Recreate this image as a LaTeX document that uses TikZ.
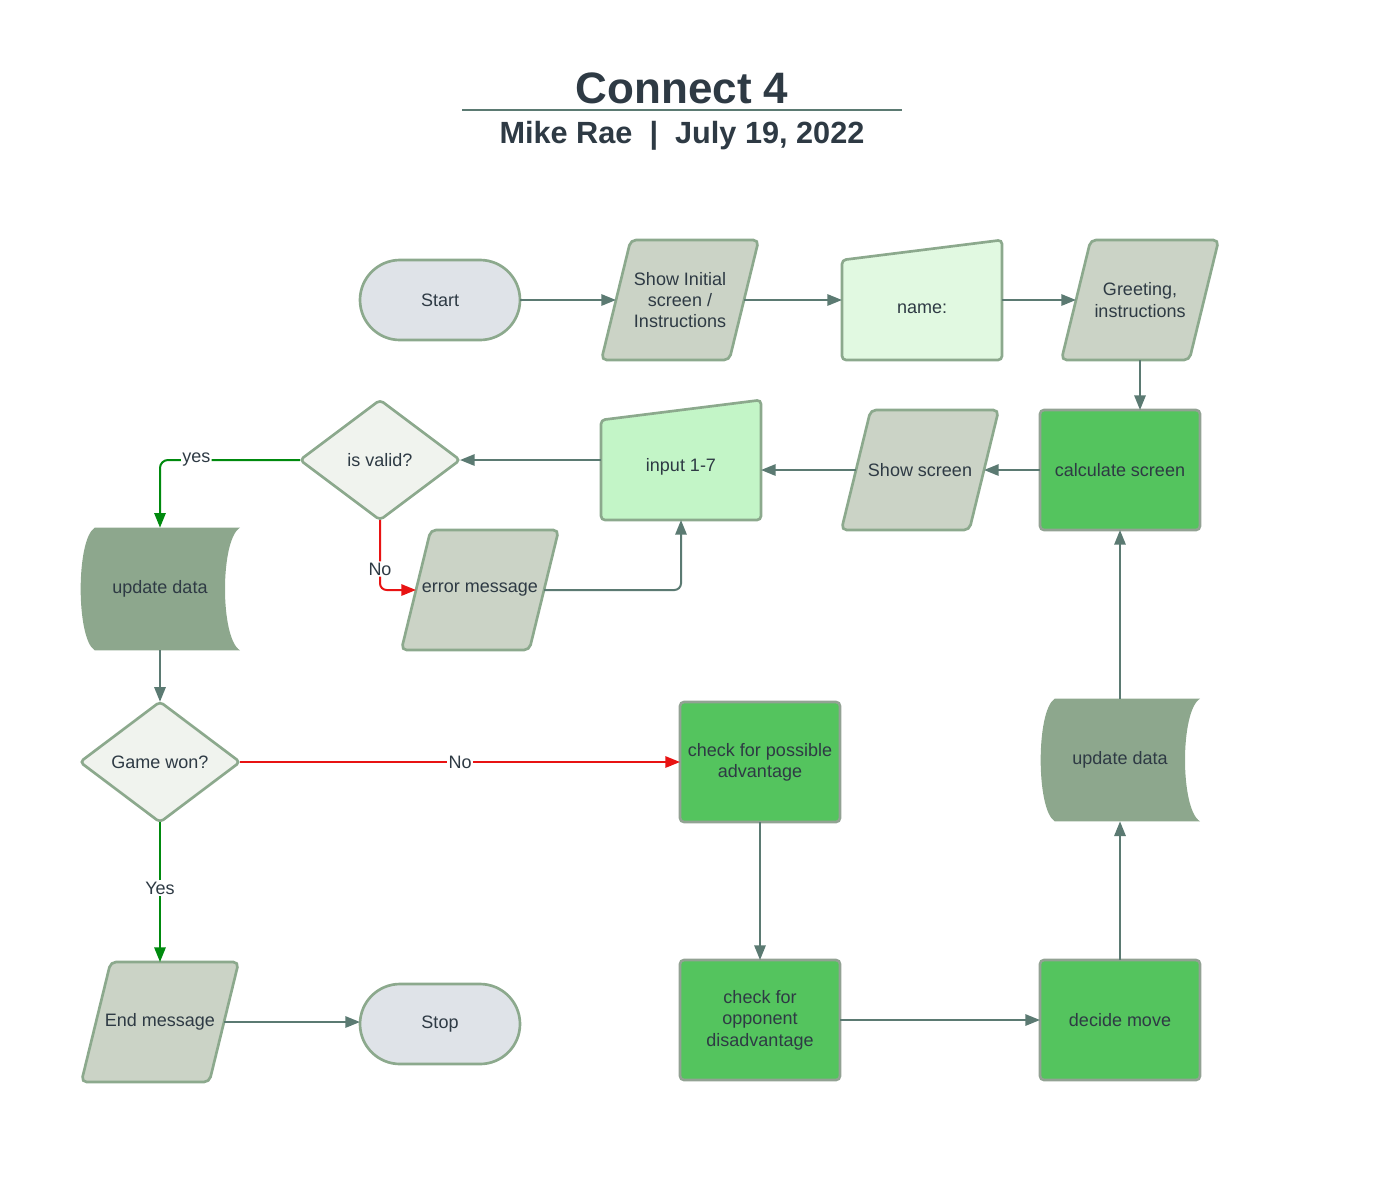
\documentclass[tikz,border=0pt]{standalone}
\usepackage{fontspec}
\setmainfont{Liberation Sans}
\usetikzlibrary{arrows.meta,backgrounds,shapes.geometric}

\definecolor{inkc}{HTML}{2E3A44}
\definecolor{edgec}{HTML}{5B7A72}
\definecolor{rimc}{HTML}{8CA98D}
\definecolor{procrim}{HTML}{92A293}
\definecolor{termfill}{HTML}{DFE3E8}
\definecolor{iofill}{HTML}{CBD3C6}
\definecolor{decfill}{HTML}{F0F3EE}
\definecolor{procfill}{HTML}{54C45E}
\definecolor{namefill}{HTML}{E1F9E1}
\definecolor{inpfill}{HTML}{C3F5C7}
\definecolor{datafill}{HTML}{8DA78D}
\definecolor{yesc}{HTML}{008A0E}
\definecolor{noc}{HTML}{E81313}

\tikzset{
  blockbase/.style={draw=rimc, line width=2pt, align=center, inner sep=2pt, outer sep=0pt},
  terminal/.style={blockbase, rectangle, rounded corners=30pt, fill=termfill, minimum width=120pt, minimum height=60pt},
  iobox/.style={rectangle, align=center, inner sep=0pt, outer sep=0pt, minimum width=96pt, minimum height=90pt},
  decision/.style={blockbase, diamond, rounded corners=3pt, fill=decfill, minimum width=120pt, minimum height=90pt},
  process/.style={blockbase, rectangle, rounded corners=3pt, draw=procrim, fill=procfill, minimum width=120pt, minimum height=90pt},
  manin/.style={rectangle, align=center, inner sep=0pt, outer sep=0pt, minimum width=120pt, minimum height=90pt, text height=20pt},
  datastore/.style={rectangle, align=center, inner sep=0pt, outer sep=0pt, minimum width=120pt, minimum height=92pt},
  rimshape/.style={draw=rimc, line width=2pt, rounded corners=3pt},
  flow/.style={draw=edgec, line width=1.5pt, -{Triangle[length=11pt,width=8.5pt]}},
  yesflow/.style={flow, draw=yesc},
  noflow/.style={flow, draw=noc},
  flowlabel/.style={fill=white, inner sep=1pt, text=inkc, font=\fontsize{13.5}{16}\selectfont}
}

\begin{document}
\begin{tikzpicture}[x=0.75pt, y=-0.75pt]
  \useasboundingbox (0,0) rectangle (1383,1189);

  % heading
  \node (title) at (682,103) [anchor=base, text=inkc, font=\fontsize{33}{36}\selectfont\bfseries] {Connect 4};
  \draw[edgec, line width=1.5pt] (462,110) -- (902,110);
  \node (byline) at (682,143) [anchor=base, text=inkc, font=\fontsize{23}{26}\selectfont\bfseries] {Mike Rae~~|~~July 19, 2022};

  \begin{scope}[every node/.append style={text=inkc, font=\fontsize{13.5}{16}\selectfont}]
    \node (start)    at (440,300)  [terminal] {Start};
    \node (showinit) at (680,300)  [iobox] {Show Initial\\screen /\\Instructions};
    \node (namein)   at (922,300)  [manin] {name:};
    \node (greet)    at (1140,300) [iobox] {Greeting,\\instructions};
    \node (calc)     at (1120,470) [process] {calculate screen};
    \node (showscr)  at (920,470)  [iobox] {Show screen};
    \node (input)    at (681,460)  [manin] {input 1-7};
    \node (valid)    at (380,460)  [decision] {is valid?};
    \node (errmsg)   at (480,590)  [iobox] {error message};
    \node (updl)     at (160,589)  [datastore] {update data};
    \node (gamewon)  at (160,762)  [decision] {Game won?};
    \node (endmsg)   at (160,1022) [iobox] {End message};
    \node (stop)     at (440,1024) [terminal] {Stop};
    \node (advant)   at (760,762)  [process] {check for possible\\advantage};
    \node (oppdis)   at (760,1020) [process] {check for\\opponent\\disadvantage};
    \node (decide)   at (1120,1020) [process] {decide move};
    \node (updr)     at (1120,760) [datastore] {update data};
  \end{scope}

  % parallelogram, manual input and stored data outlines
  \begin{scope}[on background layer]
    \foreach \p in {showinit,greet,showscr,errmsg,endmsg}
      \draw[rimshape, rounded corners=4pt, fill=iofill] ([xshift=11pt]\p.north west) -- ([xshift=11pt]\p.north east)
        -- ([xshift=-11pt]\p.south east) -- ([xshift=-11pt]\p.south west) -- cycle;
    \draw[rimshape, fill=namefill] ([yshift=-15pt]namein.north west) -- (namein.north east)
      -- (namein.south east) -- (namein.south west) -- cycle;
    \draw[rimshape, fill=inpfill] ([yshift=-15pt]input.north west) -- (input.north east)
      -- (input.south east) -- (input.south west) -- cycle;
    \foreach \d in {updl,updr}
      \fill[datafill] ([xshift=11pt]\d.north west) -- (\d.north east)
        .. controls ([xshift=-15pt,yshift=-9pt]\d.north east) and ([xshift=-15pt,yshift=9pt]\d.south east) .. (\d.south east)
        -- ([xshift=11pt]\d.south west)
        .. controls ([xshift=-3pt,yshift=9pt]\d.south west) and ([xshift=-3pt,yshift=-9pt]\d.north west) .. ([xshift=11pt]\d.north west)
        -- cycle;
  \end{scope}

  \begin{scope}[every edge/.style={flow}]
    \path (start) edge (showinit);
    \path (showinit) edge (namein);
    \path (namein) edge (greet);
    \path (greet) edge (greet |- calc.north);
    \path (calc) edge (showscr);
    \path (showscr) edge (showscr -| input.east);
    \path (input) edge (valid);
    \path (updl) edge (gamewon);
    \path (gamewon) edge[noflow] node[flowlabel] {No} (advant);
    \path (gamewon) edge[yesflow] node[flowlabel, pos=0.47] {Yes} (endmsg);
    \path (endmsg) edge (endmsg -| stop.west);
    \path (advant) edge (oppdis);
    \path (oppdis) edge (decide);
    \path (decide) edge (updr);
    \path (updr) edge (calc);
  \end{scope}
  \draw[yesflow, rounded corners=6pt] (valid.west) -| node[flowlabel, pos=0.37] {yes} (updl.north);
  \draw[noflow, rounded corners=5pt] (valid.south) |- node[flowlabel, pos=0.35] {No} (errmsg);
  \draw[flow, rounded corners=5pt] (errmsg) -| (input.south);
\end{tikzpicture}
\end{document}
